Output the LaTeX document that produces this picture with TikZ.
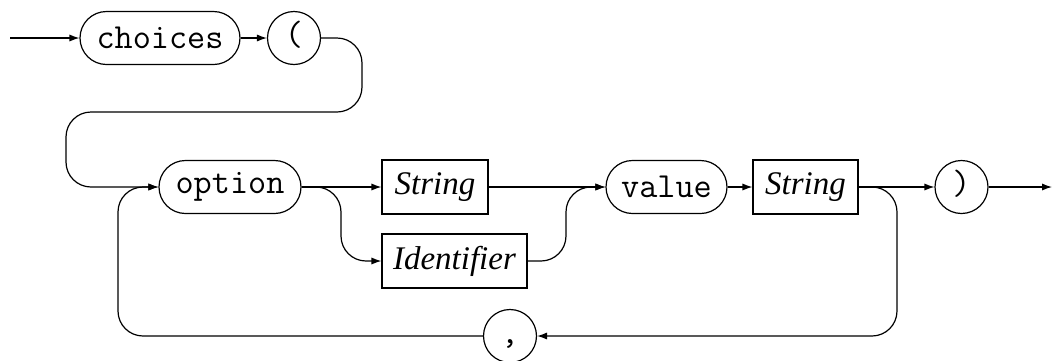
\documentclass[tikz,border=0pt]{standalone}
\usepackage{fontspec}
\setmainfont{Liberation Serif}
\newcommand{\term}[1]{{\fontsize{17.6}{20}\selectfont\texttt{#1}}}
\newcommand{\nonterm}[1]{{\fontsize{16.5}{19}\selectfont\textit{#1}}}
\usetikzlibrary{arrows.meta,positioning,scopes,shapes}

\begin{document}
\begin{tikzpicture}[x=0.5pt,y=-0.5pt,line width=0.6pt,
 every path/.style={>={Latex[length=5pt,width=3.6pt]}},
 term/.style={draw,rectangle,rounded corners=13.25pt,minimum height=26.5pt,inner sep=0pt},
 sym/.style={draw,circle,minimum size=26.5pt,inner sep=0pt,text height=11pt,text depth=3.5pt},
 nonterm/.style={draw,rectangle,minimum height=27pt,inner sep=0pt},
 rail/.style={rounded corners=12.5pt}]
 \useasboundingbox (0,0) rectangle (1062,360);

 % top row
 \coordinate (start) at (10,38);
 \node[term,minimum width=80pt] (choices) at (160,38) {\term{choices}};
 \node[sym] (open) at (294,38) {\term{(}};

 % main row
 \node[term,minimum width=71pt] (option) at (230,187) {\term{option}};
 \node[nonterm,minimum width=53pt] (keystr) at (435,187) {\nonterm{String}};
 \node[nonterm,minimum width=72.5pt] (keyid) at (454.5,261) {\nonterm{Identifier}};
 \node[term,minimum width=60.5pt] (value) at (666.5,187) {\term{value}};
 \node[nonterm,minimum width=52.5pt] (valstr) at (805.5,187) {\nonterm{String}};
 \node[sym] (close) at (961.5,187) {\term{)}};
 \coordinate (stop) at (1052,187);

 % separator
 \node[sym] (comma) at (510,336) {\term{,}};

 \draw[->] (start) -- (choices.west);
 \draw[->] (choices.east) -- (open.west);
 \draw[->,rail] (open.east) -- (362,38) -- (362,112) -- (66,112) -- (66,187) -- (option.west);
 \draw[->] (option.east) -- (keystr.west);
 \draw[->,rail] (option.east) -- (341,187) -- (341,261) -- (keyid.west);
 \draw[->] (keystr.east) -- (value.west);
 \draw[->,rail] (keyid.east) -- (566,261) -- (566,187) -- (value.west);
 \draw[->] (value.east) -- (valstr.west);
 \draw[->] (valstr.east) -- (close.west);
 \draw[->] (close.east) -- (stop);
 \draw[->,rail] (valstr.east) -- (897,187) -- (897,336) -- (comma.east);
 \draw[->,rail] (comma.west) -- (118,336) -- (118,187) -- (option.west);
\end{tikzpicture}
\end{document}
